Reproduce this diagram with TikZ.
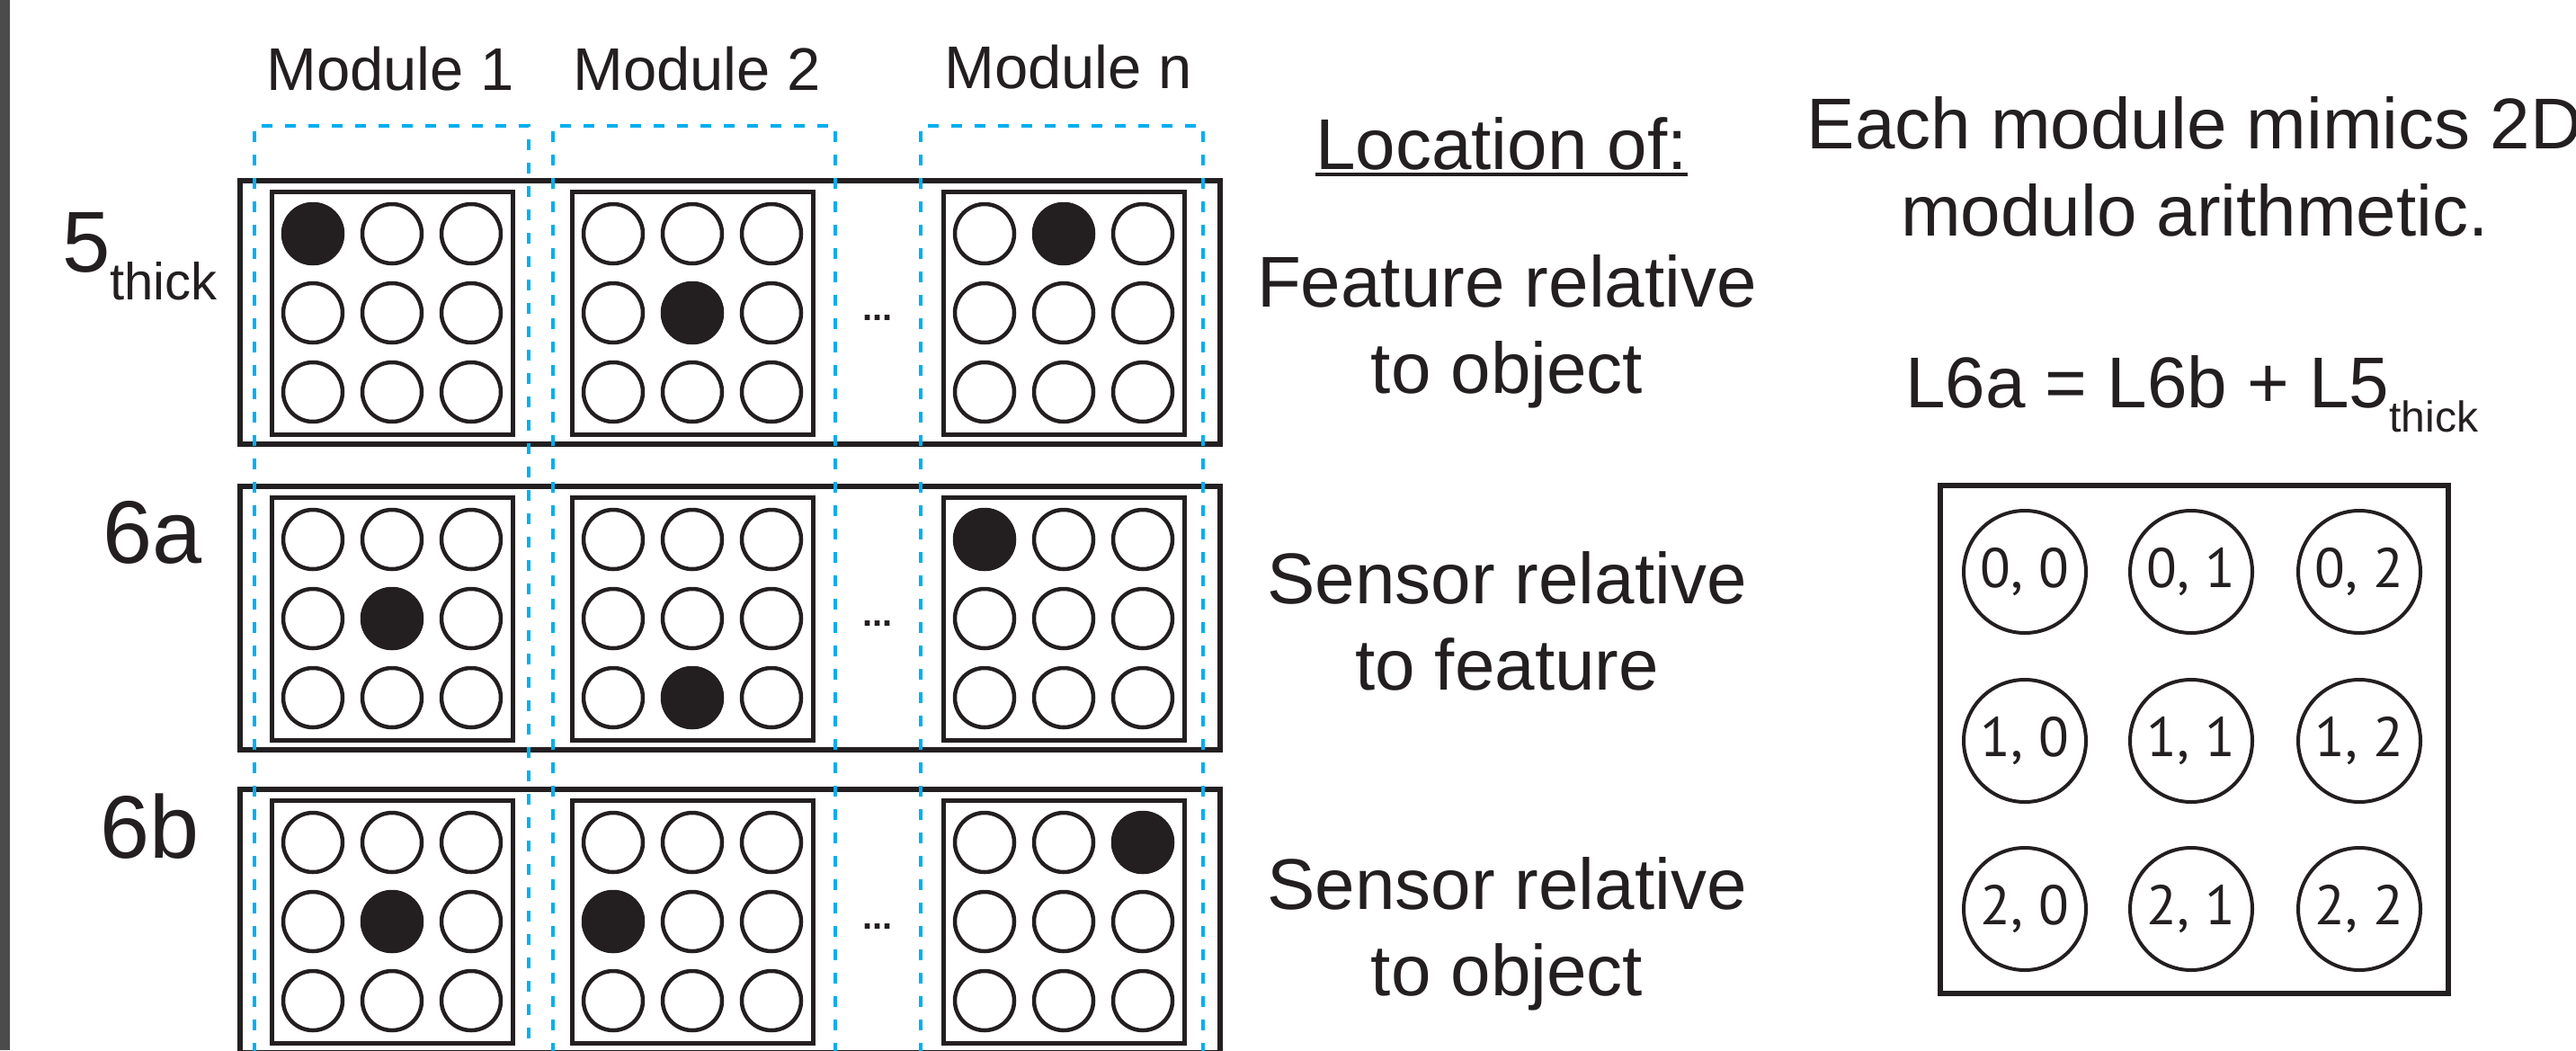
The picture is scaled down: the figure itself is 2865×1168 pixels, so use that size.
\documentclass[tikz,border=0pt]{standalone}
\usepackage{fontspec}
\setmainfont{Liberation Sans}
\newfontfamily\cellfont{PT Sans}
\definecolor{ink}{RGB}{35,31,32}
\definecolor{modblue}{RGB}{0,174,239}
\definecolor{bargray}{RGB}{75,75,75}
\tikzset{
  rowbox/.style={draw=ink, line width=6pt},
  modbox/.style={draw=ink, line width=5pt},
  cell/.style={draw=ink, line width=4.5pt},
  guide/.style={draw=modblue, line width=4.5pt, dash pattern=on 12pt off 14pt},
  lbl/.style={inner sep=0pt, anchor=base, text=ink},
  bigtxt/.style={lbl, font=\fontsize{80}{96}\selectfont},
  coord/.style={circle, draw=ink, line width=4pt, minimum size=136pt, inner sep=0pt,
    font=\cellfont\fontsize{62}{62}\selectfont, text=ink},
}

\begin{document}
\begin{tikzpicture}[x=1pt,y=-1pt]
		\useasboundingbox (0,0) rectangle (2865,1168);
		\clip (0,0) rectangle (2865,1168);
		\fill[bargray] (0,0) rectangle (11,1168);
		% module titles
		\node[lbl, font=\fontsize{67}{67}\selectfont] (mod1) at (434,100) {Module 1};
		\node[lbl, font=\fontsize{67}{67}\selectfont] (mod2) at (775,100) {Module 2};
		\node[lbl, font=\fontsize{67}{67}\selectfont] (modn) at (1188,98) {Module n};
		% row labels
		\node[lbl, anchor=base west, font=\fontsize{96}{96}\selectfont] (l5) at (69,302) {5\raisebox{-31pt}{\fontsize{58}{58}\selectfont thick}};
		\node[lbl, anchor=base west, font=\fontsize{99}{99}\selectfont] (l6a) at (114,626) {6a};
		\node[lbl, anchor=base west, font=\fontsize{99}{99}\selectfont] (l6b) at (111,954) {6b};
		% rows of modules
		\foreach \rt in {201,541,878} {
			\draw[rowbox] (267,\rt) rectangle (1357,\rt+293);
			\foreach \mx in {436,770,1183} {
				\draw[modbox] (\mx-134,\rt+12) rectangle (\mx+134,\rt+282);
				\foreach \i in {-1,0,1}
					\foreach \j in {-1,0,1}
						\draw[cell] (\mx+88*\j,\rt+147+88*\i) circle (33pt);
			}
			\node[lbl, font=\bfseries\fontsize{40}{40}\selectfont] (dots\rt) at (976,\rt+155) {...};
		}
		% active cells
		\foreach \cx/\cy in {348/260, 770/348, 1183/260, 436/688, 770/776, 1095/600, 436/1025, 682/1025, 1271/937}
			\fill[ink] (\cx,\cy) circle (35pt);
		% module columns
		\foreach \gl/\gr in {283/588, 615/929, 1024/1338}
			\draw[guide] (\gl,1250) -- (\gl,140) -- (\gr,140) -- (\gr,1250);
		% what each row holds
		\node[bigtxt] (loc) at (1670,188) {Location of:};
		\draw[ink, line width=4pt] ([yshift=-6pt]loc.base west) -- ([yshift=-6pt]loc.base east);
		\node[bigtxt] (feat1) at (1676,341) {Feature relative};
		\node[bigtxt] (feat2) at (1676,437) {to object};
		\node[bigtxt] (sf1) at (1676,671) {Sensor relative};
		\node[bigtxt] (sf2) at (1676,767) {to feature};
		\node[bigtxt] (so1) at (1676,1011) {Sensor relative};
		\node[bigtxt] (so2) at (1676,1107) {to object};
		% modulo arithmetic
		\node[bigtxt] (each1) at (2441,165) {Each module mimics 2D};
		\node[bigtxt] (each2) at (2441,262) {modulo arithmetic.};
		\node[bigtxt, anchor=base west] (eq) at (2119,453) {L6a = L6b + L5\raisebox{-27pt}{\fontsize{48}{48}\selectfont thick}};
		\draw[rowbox] (2158,540) rectangle (2723,1105);
		\foreach \cx [count=\j from 0] in {2252,2437,2624}
			\foreach \cy [count=\i from 0] in {636,824,1011}
				\node[coord] (c\i\j) at (\cx,\cy) {\i, \j};
\end{tikzpicture}
\end{document}
